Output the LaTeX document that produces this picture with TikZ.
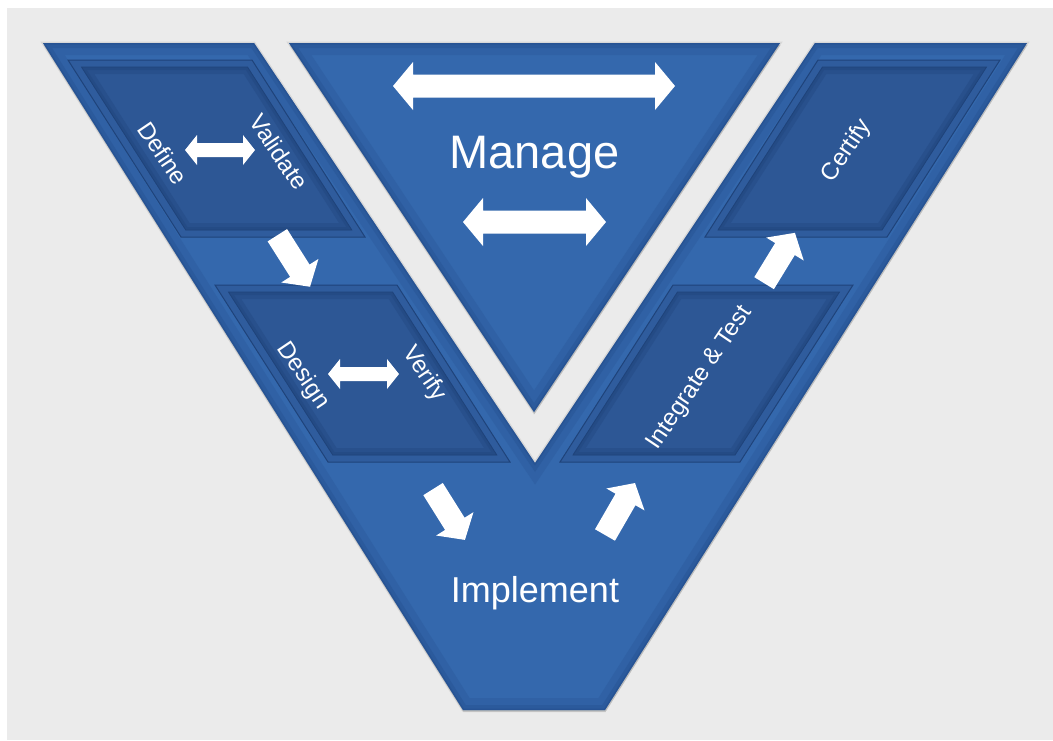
\documentclass[tikz,border=0pt]{standalone}
\usepackage{fontspec}
\setmainfont{Liberation Sans}
\definecolor{bggray}{HTML}{EBEBEB}
\definecolor{vblue}{HTML}{3468AD}
\definecolor{vedge}{HTML}{1F4682}
\definecolor{frameblue}{HTML}{2F5C9D}
\definecolor{frameline}{HTML}{1F437A}
\definecolor{boxblue}{HTML}{2D5795}
\definecolor{boxedge}{HTML}{1E4078}
\tikzset{
  vshape/.style={insert path={(43,43) -- (254,43) -- (535,463) -- (815,43) -- (1027,43) -- (605,710) -- (463,710) -- cycle}},
  mshape/.style={insert path={(289,43) -- (780,43) -- (534,412) -- cycle}},
  lbl/.style={text=white, font=\fontsize{24}{28}\selectfont, inner sep=0pt},
  pics/sarrow/.style n args={4}{code={
    \fill[white] ({-0.5*#1*1pt},{0.5*#2*1pt}) -- ({(0.5*#1-#4)*1pt},{0.5*#2*1pt}) -- ({(0.5*#1-#4)*1pt},{0.5*#3*1pt}) -- ({0.5*#1*1pt},0pt) -- ({(0.5*#1-#4)*1pt},{-0.5*#3*1pt}) -- ({(0.5*#1-#4)*1pt},{-0.5*#2*1pt}) -- ({-0.5*#1*1pt},{-0.5*#2*1pt}) -- cycle;
  }},
  pics/darrow/.style n args={4}{code={
    \fill[white] ({-0.5*#1*1pt},0pt) -- ({(-0.5*#1+#4)*1pt},{0.5*#3*1pt}) -- ({(-0.5*#1+#4)*1pt},{0.5*#2*1pt}) -- ({(0.5*#1-#4)*1pt},{0.5*#2*1pt}) -- ({(0.5*#1-#4)*1pt},{0.5*#3*1pt}) -- ({0.5*#1*1pt},0pt) -- ({(0.5*#1-#4)*1pt},{-0.5*#3*1pt}) -- ({(0.5*#1-#4)*1pt},{-0.5*#2*1pt}) -- ({(-0.5*#1+#4)*1pt},{-0.5*#2*1pt}) -- ({(-0.5*#1+#4)*1pt},{-0.5*#3*1pt}) -- cycle;
  }},
}
\newcommand\StageBox[8]{%
  \fill[frameblue, draw=frameline, line width=1pt] #1 -- #2 -- #3 -- #4 -- cycle;
  \begin{scope}
    \clip #5 -- #6 -- #7 -- #8 -- cycle;
    \fill[boxblue] #5 -- #6 -- #7 -- #8 -- cycle;
    \draw[boxedge, opacity=.3, line width=14pt] #5 -- #6 -- #7 -- #8 -- cycle;
    \draw[boxedge, opacity=.3, line width=6pt] #5 -- #6 -- #7 -- #8 -- cycle;
  \end{scope}
  \draw[frameline, line width=.8pt] #5 -- #6 -- #7 -- #8 -- cycle;
}
\begin{document}
\begin{tikzpicture}[x=1pt, y=-1pt]
\useasboundingbox (0,0) rectangle (1053,740);
\fill[white] (0,0) rectangle (1053,740);
\fill[bggray] (7,8) rectangle (1053,740);
% drop shadows
\fill[black, opacity=.12, shift={(0.5,2)}, vshape];
\fill[black, opacity=.12, shift={(0.5,2)}, mshape];
\draw[black, opacity=.08, line width=3pt, vshape];
\draw[black, opacity=.08, line width=3pt, mshape];
% main shapes
\fill[vblue, vshape];
\fill[vblue, mshape];
\begin{scope}
  \clip[vshape];
  \draw[vedge, opacity=.18, line width=24pt, vshape];
  \draw[vedge, opacity=.25, line width=10pt, vshape];
  \draw[vedge, opacity=.3, line width=3pt, vshape];
\end{scope}
\begin{scope}
  \clip[mshape];
  \draw[vedge, opacity=.18, line width=24pt, mshape];
  \draw[vedge, opacity=.25, line width=10pt, mshape];
  \draw[vedge, opacity=.3, line width=3pt, mshape];
\end{scope}
% stage boxes
\StageBox{(68,60)}{(252,60)}{(365,237)}{(181,237)}{(81.5,67)}{(247.5,67)}{(351.8,230)}{(185.8,230)}
\StageBox{(215,285)}{(397,285)}{(510,462)}{(328,462)}{(228.5,292)}{(392.5,292)}{(496.8,455)}{(332.8,455)}
\StageBox{(818,60)}{(1000,60)}{(887,237)}{(705,237)}{(822.5,67)}{(986.5,67)}{(882,230)}{(718,230)}
\StageBox{(673,285)}{(853,285)}{(740,462)}{(560,462)}{(677.5,292)}{(839.5,292)}{(735,455)}{(573,455)}
% arrows
\pic[rotate=-57.6] at (293.7,261) {sarrow={61}{23}{44}{19}};
\pic[rotate=-57.9] at (449,514.5) {sarrow={60}{23}{44}{19}};
\pic[rotate=60] at (620,509) {sarrow={60}{23}{44}{19}};
\pic[rotate=58.5] at (779.5,258) {sarrow={59}{23}{44}{19}};
\pic at (534,86) {darrow={282}{23}{48}{20}};
\pic at (534.5,222) {darrow={143}{23}{48}{20}};
\pic at (220,150) {darrow={70}{14}{30}{12}};
\pic at (363.5,374) {darrow={71}{14}{30}{12}};
% texts
\node[text=white, font=\fontsize{47}{56}\selectfont, anchor=base, inner sep=0pt] (manage) at (534.5,168) {Manage};
\node[text=white, font=\fontsize{36}{43}\selectfont, anchor=base, inner sep=0pt] (implement) at (535,602) {Implement};
\node[lbl, rotate=-56] (define) at (163,153) {Define};
\node[lbl, rotate=-56] (validate) at (279,152) {Validate};
\node[lbl, rotate=-56] (design) at (303,376) {Design};
\node[lbl, rotate=-56] (verify) at (424,374) {Verify};
\node[lbl, rotate=56] (certify) at (847,151) {Certify};
\node[lbl, rotate=56] (integrate) at (700,378) {Integrate \& Test};
\end{tikzpicture}
\end{document}
